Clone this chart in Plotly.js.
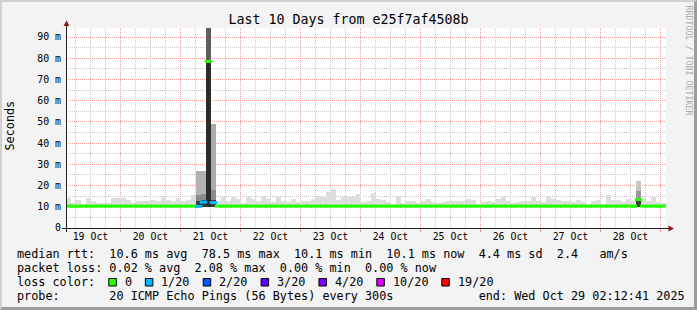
<!DOCTYPE html>
<html><head><meta charset="utf-8">
<script src="https://cdn.plot.ly/plotly-3.0.1.min.js"></script>
<style>
html,body{margin:0;padding:0;background:#f3f3f3;}
#wrap{position:relative;width:697px;height:310px;overflow:hidden;}
#chart{position:absolute;left:0;top:0;width:697px;height:310px;}
#frame{position:absolute;left:0;top:0;width:697px;height:310px;box-sizing:border-box;border-top:2px solid #d0d0d0;border-left:2px solid #d0d0d0;border-right:3px solid #9d9d9d;border-bottom:3px solid #9d9d9d;pointer-events:none;}
</style></head><body>
<div id="wrap"><div id="chart"></div><div id="frame"></div></div>
<script>
// ---------------- data ----------------
const START_MS = Date.UTC(2025, 9, 19, 2, 12, 41);
const END_MS   = Date.UTC(2025, 9, 29, 2, 12, 41);
const BIN_MS   = 2 * 3600 * 1000;   // one consolidated step = 2 hours
const MIN_RTT  = 10.1;               // "10.1 ms min"

const dayLabels = ['19 Oct','20 Oct','21 Oct','22 Oct','23 Oct','24 Oct','25 Oct','26 Oct','27 Oct','28 Oct'];
const yTickVals = [0, 10, 20, 30, 40, 50, 60, 70, 80, 90];
const yTickText = ['0','10 m','20 m','30 m','40 m','50 m','60 m','70 m','80 m','90 m'];

// upper edge of the smoke (max ping) per 2-hour step, ms
const smokeMax = [
  14.0, 12.0, 13.0, 11.5, 14.0, 12.5, 11.8, 12.0, 12.0, 14.0, 14.0, 14.0,
  13.2, 12.0, 12.6, 12.5, 12.6, 13.2, 12.8, 14.6, 13.3, 12.5, 14.0, 12.6,
  13.0, 15.5, 26.8, 26.9, 100.0, 48.9, 12.5, 14.7, 12.5, 14.5, 13.5, 12.0,
  14.5, 13.5, 12.5, 15.0, 13.5, 12.3, 14.6, 12.6, 12.3, 13.8, 12.3, 12.8,
  12.6, 13.5, 15.3, 14.5, 17.1, 18.2, 13.1, 14.5, 14.5, 14.5, 15.8, 12.1,
  12.6, 16.6, 13.9, 13.1, 12.1, 11.4, 15.3, 11.8, 12.6, 12.6, 11.8, 12.6,
  13.5, 12.1, 11.8, 12.1, 12.6, 12.6, 12.6, 12.8, 13.5, 13.1, 11.4, 12.4,
  12.6, 12.3, 13.9, 14.5, 12.6, 11.8, 12.1, 12.6, 12.6, 14.5, 12.6, 12.1,
  15.0, 13.9, 13.1, 12.6, 12.6, 12.1, 13.1, 12.1, 11.4, 12.6, 13.1, 11.4,
  15.5, 13.1, 13.1, 12.1, 13.5, 12.6, 22.3, 13.9, 12.6, 14.5, 12.3, 11.6
];

// median rtt per step, ms
const medianRtt = [
  10.3, 10.3, 10.3, 10.3, 10.3, 10.3, 10.3, 10.3, 10.3, 10.3, 10.3, 10.3,
  10.3, 10.3, 10.3, 10.3, 10.3, 10.3, 10.3, 10.3, 10.3, 10.3, 10.3, 10.3,
  10.3, 10.3, 10.2, 12.2, 78.5, 12.0, 10.3, 10.3, 10.3, 10.3, 10.3, 10.3,
  10.3, 10.3, 10.3, 10.3, 10.3, 10.3, 10.3, 10.3, 10.3, 10.3, 10.3, 10.3,
  10.3, 10.3, 10.3, 10.3, 10.3, 10.3, 10.3, 10.3, 10.3, 10.3, 10.3, 10.3,
  10.3, 10.3, 10.3, 10.3, 10.3, 10.3, 10.3, 10.3, 10.3, 10.3, 10.3, 10.3,
  10.3, 10.3, 10.3, 10.3, 10.3, 10.3, 10.3, 10.3, 10.3, 10.3, 10.3, 10.3,
  10.3, 10.3, 10.3, 10.3, 10.3, 10.3, 10.3, 10.3, 10.3, 10.3, 10.3, 10.3,
  10.3, 10.3, 10.3, 10.3, 10.3, 10.3, 10.3, 10.3, 10.3, 10.3, 10.3, 10.3,
  10.3, 10.3, 10.3, 10.3, 10.3, 10.3, 13.4, 10.3, 10.3, 10.3, 10.3, 10.3
];

// lost pings (out of 20) per step
const lossCount = [
  0,0,0,0,0,0,0,0,0,0,0,0, 0,0,0,0,0,0,0,0,0,0,0,0,
  0,0,1,1,0,1,0,0,0,0,0,0, 0,0,0,0,0,0,0,0,0,0,0,0,
  0,0,0,0,0,0,0,0,0,0,0,0, 0,0,0,0,0,0,0,0,0,0,0,0,
  0,0,0,0,0,0,0,0,0,0,0,0, 0,0,0,0,0,0,0,0,0,0,0,0,
  0,0,0,0,0,0,0,0,0,0,0,0, 0,0,0,0,0,0,0,0,0,0,0,0
];

// denser smoke layers inside the bursty steps
const burstBins  = [26, 27, 28, 29, 114];
const burstOuter = [26.8, 26.9, 100.0, 48.9, 22.3];
const burstMid   = [15.5, 16.0, 100.0, 18.0, 17.5];
const burstCore  = [12.6, 13.2, 78.5, 13.4, 14.0];

const lossLevels = [0, 1, 2, 3, 4, 10, 19];
const lossLabels = ['0', '1/20', '2/20', '3/20', '4/20', '10/20', '19/20'];
const lossColors = ['#26ff00', '#00b8ff', '#0059ff', '#5e00ff', '#7e00ff', '#dd00ff', '#ff0000'];

const legendLines = [
  'median rtt:  10.6 ms avg  78.5 ms max  10.1 ms min  10.1 ms now  4.4 ms sd  2.4   am/s',
  'packet loss: 0.02 % avg  2.08 % max  0.00 % min  0.00 % now',
  'loss color:',
  'probe:       20 ICMP Echo Pings (56 Bytes) every 300s            end: Wed Oct 29 02:12:41 2025'
];

// ---------------- styles ----------------
const outerColors = ['#b3b3b3', '#b3b3b3', '#7a7a7a', '#ababab', '#c6c6c6'];
const midColors   = ['#8c8c8c', '#8c8c8c', '#5e5e5e', '#8c8c8c', '#9a9a9a'];
const coreColors  = ['#3a3a3a', '#3a3a3a', '#2c2c2c', '#3a3a3a', '#3a3a3a'];
const MONO = 'DejaVu Sans Mono';

// ---------------- build ----------------
const binX = smokeMax.map((_, i) => START_MS + (i + 0.5) * BIN_MS);
const burstX = burstBins.map(b => binX[b]);
const dayNoons = dayLabels.map((_, k) => Date.UTC(2025, 9, 19 + k, 12));
const medColors = lossCount.map(l => {
  let c = lossColors[0];
  lossLevels.forEach((lv, k) => { if (l >= lv) c = lossColors[k]; });
  return c;
});

function barTrace(xs, tops, color) {
  return { type: 'bar', x: xs, y: tops.map(t => t - MIN_RTT), base: MIN_RTT, width: BIN_MS,
           marker: { color: color, line: { width: 0 } }, hoverinfo: 'skip', showlegend: false };
}

const traces = [
  barTrace(binX, smokeMax, '#dddddd'),
  barTrace(burstX, burstOuter, outerColors),
  barTrace(burstX, burstMid, midColors),
  barTrace(burstX, burstCore, coreColors),
  { type: 'scatter', mode: 'markers', x: binX, y: medianRtt, hoverinfo: 'skip', showlegend: false,
    marker: { symbol: 'line-ew', size: 5.3, line: { width: 3, color: medColors } } },
  { type: 'scatter', mode: 'markers', x: [START_MS], y: [null], xaxis: 'x2', yaxis: 'y',
    hoverinfo: 'skip', showlegend: false, marker: { opacity: 0 } }
];

// page geometry helpers (pixels -> paper fractions) for text/decoration placement
const PL = 66, PT = 28, PW = 600, PH = 200;
const px = v => (v - PL) / PW;
const py = v => (PT + PH - v) / PH;
const nb = s => s.replace(/ /g, '\u00a0');

const CW = 7.1, LX = 16;
const annotations = [];
const shapes = [];

function textAnn(text, x, y, size, opts) {
  return Object.assign({ text: nb(text), xref: 'paper', yref: 'paper', x: px(x), y: py(y),
    xanchor: 'left', yanchor: 'middle', showarrow: false, borderpad: 0,
    font: { family: MONO, size: size, color: '#000' } }, opts || {});
}

const lineY = [254, 268, 282, 296];
legendLines.forEach((t, i) => annotations.push(textAnn(t, LX, lineY[i], 11.8)));

let col = 13;
lossLabels.forEach((lab, k) => {
  const sx = LX + col * CW;
  shapes.push({ type: 'rect', xref: 'paper', yref: 'paper', layer: 'above',
    x0: px(sx + 0.5), x1: px(sx + 8), y0: py(286), y1: py(278.5),
    fillcolor: lossColors[k], line: { color: '#000', width: 1 } });
  const tc = col + 2.15;
  annotations.push(textAnn(lab, LX + tc * CW, 282, 11.8));
  col = tc + lab.length + 2;
});

annotations.push({ text: 'Seconds', xref: 'paper', yref: 'paper', x: px(9.5), y: py(126),
  xanchor: 'center', yanchor: 'middle', textangle: -90, showarrow: false,
  font: { family: MONO, size: 11.8, color: '#000' } });
annotations.push({ text: nb('RRDTOOL / TOBI OETIKER'), xref: 'paper', yref: 'paper', x: px(688.5), y: py(60),
  xanchor: 'center', yanchor: 'middle', textangle: 90, showarrow: false,
  font: { family: MONO, size: 8.3, color: '#ababab' } });

// axis lines with arrows
const AX = '#222222', AR = '#8e1a1a';
shapes.push({ type: 'line', xref: 'paper', yref: 'paper', layer: 'above',
  x0: px(62), x1: px(669), y0: py(228.5), y1: py(228.5), line: { color: AX, width: 1 } });
shapes.push({ type: 'line', xref: 'paper', yref: 'paper', layer: 'above',
  x0: px(66.5), x1: px(66.5), y0: py(232), y1: py(25), line: { color: AX, width: 1 } });
shapes.push({ type: 'path', xref: 'paper', yref: 'paper', layer: 'above',
  path: `M${px(674)},${py(228.5)} L${px(668.5)},${py(225.5)} L${px(668.5)},${py(231.5)} Z`,
  fillcolor: AR, line: { width: 0 } });
shapes.push({ type: 'path', xref: 'paper', yref: 'paper', layer: 'above',
  path: `M${px(66.5)},${py(20.5)} L${px(63.5)},${py(26)} L${px(69.5)},${py(26)} Z`,
  fillcolor: AR, line: { width: 0 } });

const layout = {
  width: 697, height: 310,
  margin: { l: PL, r: 697 - PL - PW, t: PT, b: 310 - PT - PH, pad: 0 },
  paper_bgcolor: '#f3f3f3', plot_bgcolor: '#ffffff',
  barmode: 'overlay', bargap: 0, showlegend: false,
  title: { text: 'Last 10 Days from e25f7af4508b', font: { family: MONO, size: 13.3, color: '#000' },
           xref: 'container', x: 0.5, xanchor: 'center', yref: 'container', y: 1 - 19 / 310, yanchor: 'middle' },
  xaxis: { type: 'date', range: [START_MS, END_MS], tickmode: 'linear', tick0: Date.UTC(2025, 9, 19), dtick: 86400000,
           showticklabels: false, ticks: 'outside', ticklen: 3, tickcolor: '#f08c8c', tickwidth: 1,
           showgrid: true, gridcolor: '#f29a9a', griddash: '1px,1px', gridwidth: 1,
           zeroline: false, showline: false, fixedrange: true,
           minor: { tickmode: 'linear', tick0: Date.UTC(2025, 9, 19), dtick: 6 * 3600000, showgrid: true,
                    gridcolor: '#c8c8c8', griddash: '1px,1px', gridwidth: 1, ticks: '' } },
  xaxis2: { type: 'date', overlaying: 'x', anchor: 'y', side: 'bottom', range: [START_MS, END_MS],
            tickmode: 'array', tickvals: dayNoons, ticktext: dayLabels, showgrid: false, zeroline: false,
            showline: false, ticks: '', ticklabelstandoff: 1,
            tickfont: { family: MONO, size: 9.9, color: '#000' }, fixedrange: true },
  yaxis: { range: [0, 94.25], tickmode: 'array', tickvals: yTickVals, ticktext: yTickText,
           tickfont: { family: MONO, size: 9.9, color: '#000' }, ticks: '', ticklabelstandoff: 4,
           showgrid: true, gridcolor: '#f29a9a', griddash: '1px,1px', gridwidth: 1,
           zeroline: false, showline: false, fixedrange: true,
           minor: { tickmode: 'linear', tick0: 0, dtick: 5, showgrid: true, gridcolor: '#c8c8c8',
                    griddash: '1px,1px', gridwidth: 1, ticks: '' } },
  annotations: annotations,
  shapes: shapes
};

Plotly.newPlot('chart', traces, layout, { staticPlot: true, displayModeBar: false });
</script></body></html>
